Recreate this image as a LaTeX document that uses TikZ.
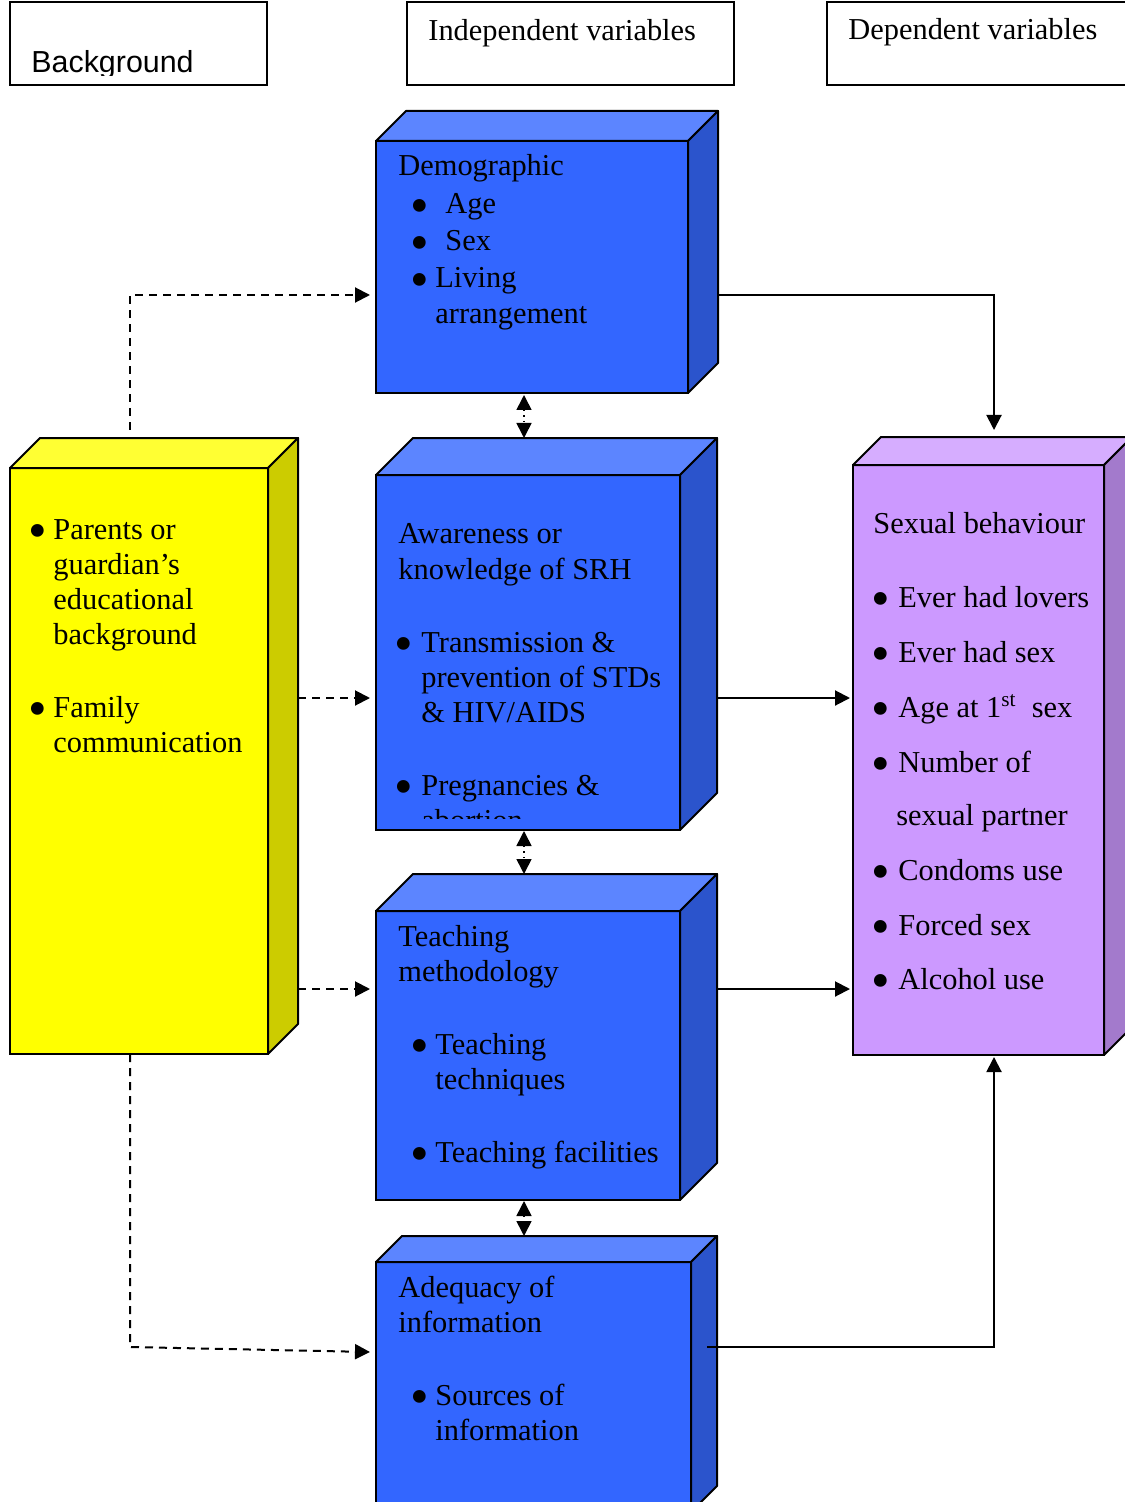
\documentclass[tikz,border=0pt]{standalone}
\usepackage{fontspec}
\usepackage{graphicx}
\setmainfont{Liberation Serif}
\newfontfamily\headsans{Liberation Sans}
\usetikzlibrary{arrows.meta,positioning}
\definecolor{frontblue}{RGB}{51,102,255}
\definecolor{topblue}{RGB}{92,133,255}
\definecolor{sideblue}{RGB}{43,84,204}
\definecolor{frontyellow}{RGB}{255,255,0}
\definecolor{topyellow}{RGB}{255,255,51}
\definecolor{sideyellow}{RGB}{204,204,0}
\definecolor{frontpurple}{RGB}{204,153,255}
\definecolor{toppurple}{RGB}{214,173,255}
\definecolor{sidepurple}{RGB}{163,122,204}
\newcommand{\boxfont}{\fontsize{15.2pt}{17.5pt}\selectfont}
\newcommand{\bul}[2]{\hspace*{#1}\makebox[#2][l]{\hspace*{-2pt}\smash{\raisebox{-4.8pt}{\scalebox{1.75}{\textbullet}}}}}
% top and right faces of a box node: node, depth, top colour, side colour
\newcommand{\cubesides}[4]{%
  \draw[line width=1pt, line join=round, fill=#3] (#1.north west) -- ++(#2,-#2)
    -- ([shift={(#2,-#2)}]#1.north east) -- (#1.north east) -- cycle;
  \draw[line width=1pt, line join=round, fill=#4] (#1.north east) -- ++(#2,-#2)
    -- ([shift={(#2,-#2)}]#1.south east) -- (#1.south east) -- cycle;}
\tikzset{
  headbox/.style={draw, line width=1pt, anchor=north west, inner sep=0pt,
    outer sep=0pt, minimum height=41.5pt},
  frontface/.style={draw, line width=1pt, anchor=north west, inner sep=0pt,
    outer sep=0pt},
  boxtext/.style={anchor=base west, align=left, inner sep=0pt, font=\boxfont},
  solidarrow/.style={-{Triangle[length=7.5pt,width=7.5pt]}, line width=1pt},
  dasharrow/.style={solidarrow, dash pattern=on 4pt off 3pt},
  linkarrow/.style={{Triangle[length=7.5pt,width=7.5pt]}-{Triangle[length=7.5pt,width=7.5pt]},
    line width=0.8pt, dotted}
}

\begin{document}
\begin{tikzpicture}[x=0.5pt, y=-0.5pt]
  \useasboundingbox (0,0) rectangle (1124,1502);

  % column headings
  \node[headbox, minimum width=128.5pt] (bg) at (10,2) {};
  \node[headbox, minimum width=163.5pt] (indep) at (407,2) {};
  \node[headbox, minimum width=155pt] (dep) at (827,2) {};
  \begin{scope}
    \clip (bg.north west) rectangle ([yshift=4.5pt]bg.south east);
    \node[boxtext, font=\headsans\boxfont] (bgtxt) at ([shift={(21,71)}]bg.north west) {Background};
  \end{scope}
  \node[boxtext] (indeptxt) at ([shift={(21,39)}]indep.north west) {Independent variables};
  \node[boxtext] (deptxt) at ([shift={(21,38)}]dep.north west) {Dependent variables};

  % boxes
  \node[frontface, fill=frontblue, minimum width=156pt, minimum height=126pt] (demo) at (376,141) {};
  \cubesides{demo}{30}{topblue}{sideblue}
  \node[frontface, fill=frontblue, minimum width=152pt, minimum height=177.5pt,
    below right=41pt and 0pt of demo.south west] (aware) {};
  \cubesides{aware}{37}{topblue}{sideblue}
  \node[frontface, fill=frontblue, minimum width=152pt, minimum height=144.5pt,
    below right=40.5pt and 0pt of aware.south west] (teach) {};
  \cubesides{teach}{37}{topblue}{sideblue}
  \node[frontface, fill=frontblue, minimum width=157.5pt, minimum height=125pt,
    below right=31pt and 0pt of teach.south west] (adeq) {};
  \cubesides{adeq}{26}{topblue}{sideblue}
  \node[frontface, fill=frontyellow, minimum width=129pt, minimum height=293pt] (yel) at (10,468) {};
  \cubesides{yel}{30}{topyellow}{sideyellow}
  \node[frontface, fill=frontpurple, minimum width=125.5pt, minimum height=295pt] (purp) at (853,465) {};
  \cubesides{purp}{28}{toppurple}{sidepurple}

  % box texts (placed by the baseline of their last line)
  \node[boxtext] (demotxt) at ([shift={(22,183)}]demo.north west)
    {Demographic\\[1.5pt]
     \bul{8pt}{15.5pt}Age\\[1pt]
     \bul{8pt}{15.5pt}Sex\\[1pt]
     \bul{8pt}{10.5pt}Living\\[0.5pt]
     \hspace*{18.5pt}arrangement};
  \begin{scope}
    \clip (aware.north west) rectangle ([yshift=6pt]aware.south east);
    \node[boxtext] (awaretxt) at ([shift={(22,355)}]aware.north west)
      {Awareness or\\[0.5pt]
       knowledge of SRH\\[19pt]
       \bul{0pt}{11.5pt}Transmission \&\\
       \hspace*{11.5pt}prevention of STDs\\
       \hspace*{11.5pt}\& HIV/AIDS\\[19pt]
       \bul{0pt}{11.5pt}Pregnancies \&\\
       \hspace*{11.5pt}abortion};
  \end{scope}
  \node[boxtext] (teachtxt) at ([shift={(22,251)}]teach.north west)
    {Teaching\\
     methodology\\[19pt]
     \bul{8pt}{10.5pt}Teaching\\
     \hspace*{18.5pt}techniques\\[19pt]
     \bul{8pt}{10.5pt}Teaching facilities};
  \node[boxtext] (adeqtxt) at ([shift={(22,178)}]adeq.north west)
    {Adequacy of\\
     information\\[19pt]
     \bul{8pt}{10.5pt}Sources of\\
     \hspace*{18.5pt}information};
  \node[boxtext] (yeltxt) at ([shift={(22,284)}]yel.north west)
    {\bul{0pt}{10.5pt}Parents or\\
     \hspace*{10.5pt}guardian’s\\
     \hspace*{10.5pt}educational\\
     \hspace*{10.5pt}background\\[19pt]
     \bul{0pt}{10.5pt}Family\\
     \hspace*{10.5pt}communication};
  \node[boxtext] (purptxt) at ([shift={(20,524)}]purp.north west)
    {Sexual behaviour\\[19.5pt]
     \bul{0.8pt}{11.7pt}Ever had lovers\\[10pt]
     \bul{0.8pt}{11.7pt}Ever had sex\\[10pt]
     \bul{0.8pt}{11.7pt}Age at 1\textsuperscript{st}\ \ sex\\[10pt]
     \bul{0.8pt}{11.7pt}Number of\\[9pt]
     \hspace*{11.5pt}sexual partner\\[10pt]
     \bul{0.8pt}{11.7pt}Condoms use\\[10pt]
     \bul{0.8pt}{11.7pt}Forced sex\\[9.5pt]
     \bul{0.8pt}{11.7pt}Alcohol use};

  % background -> independent
  \draw[dasharrow] ([shift={(-9,-38)}]yel.north) |- ([shift={(-6,28)}]demo.west);
  \draw[dasharrow] ([shift={(30,-63)}]yel.east) -- ([shift={(-6,45.5)}]aware.west);
  \draw[dasharrow] ([shift={(30,228)}]yel.east) -- ([shift={(-6,-66.5)}]teach.west);
  \draw[dasharrow] ([xshift=-4.5pt]yel.south) -- ++(0,293) -- ([shift={(-6,-35)}]adeq.west);

  % independent -> dependent
  \draw[solidarrow] ([shift={(30,28)}]demo.east) -| ([shift={(15.5,-35)}]purp.north);
  \draw[solidarrow] ([shift={(37,45.5)}]aware.east) -- ([shift={(-3,-62)}]purp.west);
  \draw[solidarrow] ([shift={(37,-66.5)}]teach.east) -- ([shift={(-3,229)}]purp.west);
  \draw[solidarrow] ([shift={(16,-40)}]adeq.east) -| ([shift={(15.5,2)}]purp.south);

  % links between independent variables
  \draw[linkarrow] ([shift={(-8,2)}]demo.south) -- ([shift={(-4,-37)}]aware.north);
  \draw[linkarrow] ([shift={(-4,1)}]aware.south) -- ([shift={(-4,-37)}]teach.north);
  \draw[linkarrow] ([shift={(-4,1)}]teach.south) -- ([shift={(-9.5,-26)}]adeq.north);
\end{tikzpicture}
\end{document}
